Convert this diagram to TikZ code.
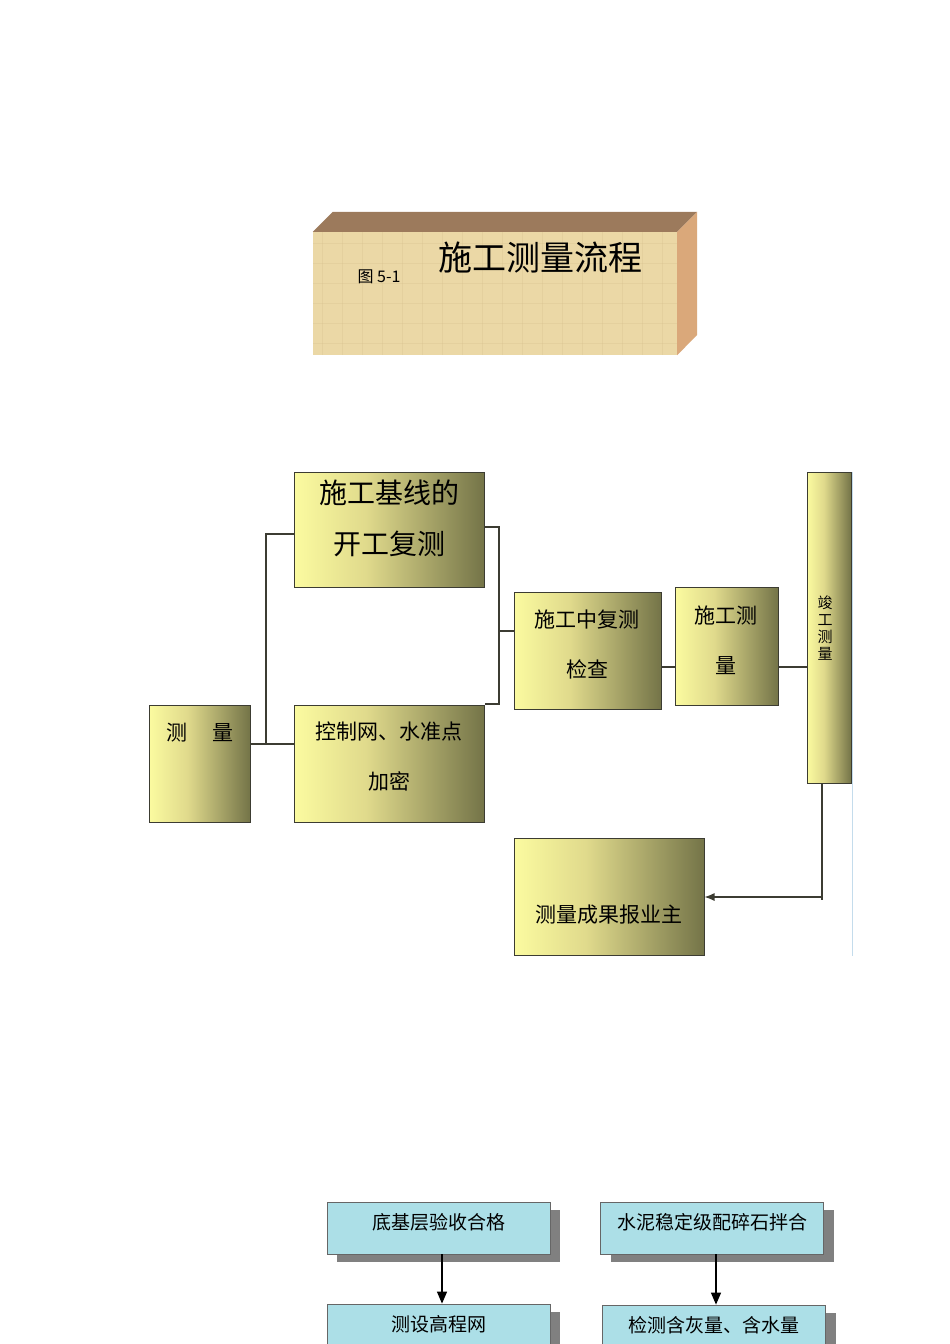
\documentclass[tikz,border=0pt]{standalone}
\usepackage{fontspec}
\setmainfont{Noto Sans CJK SC}
\usetikzlibrary{calc}
\usetikzlibrary{shadows}
\usetikzlibrary{arrows.meta}
\definecolor{flwyl}{RGB}{251,251,160}
\definecolor{flwym}{RGB}{224,218,140}
\definecolor{flwyd}{RGB}{116,116,72}
\definecolor{flwln}{RGB}{60,60,50}
\definecolor{ttlfr}{RGB}{235,216,166}
\definecolor{ttltx}{RGB}{214,190,140}
\definecolor{ttltp}{RGB}{156,122,92}
\definecolor{ttlsd}{RGB}{218,168,122}
\definecolor{wtrfl}{RGB}{172,223,231}
\definecolor{wtrsh}{RGB}{128,128,128}
\definecolor{edgbl}{RGB}{196,220,236}
\pgfdeclarehorizontalshading{flwshade}{100bp}{color(0bp)=(flwyl);
  color(25bp)=(flwyl); color(44bp)=(flwym); color(75bp)=(flwyd);
  color(100bp)=(flwyd)}
\newcommand{\flwbxh}{117pt}
\newcommand{\flwbxw}{190pt}
\newcommand{\wtrbxw}{223pt}
\newcommand{\wtrbxh}{52pt}
\newcommand{\flwfnt}{\fontsize{21}{50}\selectfont}
\newcommand{\wtrfnt}{\fontsize{19}{22}\selectfont}
\tikzset{
  flwbox/.style={draw=flwln, line width=1pt, shading=flwshade,
    inner sep=0pt, minimum height=\flwbxh},
  flwtxt/.style={inner sep=0pt, align=center, font=\flwfnt},
  flwwire/.style={draw=flwln, line width=1.2pt},
  wtrbox/.style={draw=wtrsh!80!black, line width=0.8pt, fill=wtrfl,
    inner sep=0pt, minimum width=\wtrbxw, minimum height=\wtrbxh,
    font=\wtrfnt, text depth=14pt,
    drop shadow={shadow xshift=10pt, shadow yshift=-8pt,
      fill=wtrsh, opacity=1}},
  wtrwire/.style={draw=black, line width=1.3pt,
    -{Triangle[length=12pt,width=10pt]}}
}
\begin{document}
\begin{tikzpicture}[x=1pt,y=-1pt]
    \useasboundingbox (0,0) rectangle (950,1344);

    \node[inner sep=0pt, fill=ttlfr, minimum width=364pt,
      minimum height=123pt] (ttl) at (495,293.5) {};
    \begin{scope}
      \clip (ttl.north west) rectangle (ttl.south east);
      \foreach \k in {0,...,17}
        \draw[ttltx, line width=1pt, opacity=0.3]
          ($(ttl.north west)+(10+20*\k,0)$) -- ++(0,123);
      \foreach \k in {0,...,5}
        \draw[ttltx, line width=1pt, opacity=0.3]
          ($(ttl.north west)+(0,12+20*\k)$) -- ++(364,0);
    \end{scope}
    \fill[ttltp] (ttl.north west) -- ++(20,-20)
      -- ($(ttl.north east)+(20,-20)$) -- (ttl.north east) -- cycle;
    \fill[ttlsd] (ttl.north east) -- ++(20,-20) -- ++(0,123)
      -- (ttl.south east) -- cycle;
    \node[inner sep=0pt, font=\fontsize{34}{40}\selectfont]
      (ttl-name) at (540,258) {施工测量流程};
    \node[inner sep=0pt, font=\fontsize{16}{20}\selectfont]
      (ttl-fig) at (379,277) {图 5-1};

    \node[flwbox, minimum width=101pt] (meas) at (199.5,763.5) {};
    \node[flwbox, minimum width=\flwbxw, minimum height=115pt]
      (base) at (389,529.5) {};
    \node[flwbox, minimum width=\flwbxw] (ctrl) at (389,763.5) {};
    \node[flwbox, minimum width=147pt] (chck) at (587.5,650.5) {};
    \node[flwbox, minimum width=103pt, minimum height=118pt]
      (work) at (726.5,646) {};
    \node[flwbox, minimum width=44pt, minimum height=311pt]
      (done) at (829,627.5) {};
    \node[flwbox, minimum width=\flwbxw] (rept) at (609,896.5) {};

    \node[flwtxt] (meas-t) at (200,733) {测\hspace{25pt}量};
    \node[flwtxt, font=\fontsize{28}{51}\selectfont]
      (base-t) at (389,518.5) {施工基线的\\开工复测};
    \node[flwtxt] (ctrl-t) at (389,757) {控制网、水准点\\加密};
    \node[flwtxt] (chck-t) at (587,644) {施工中复测\\检查};
    \node[flwtxt] (work-t) at (726,640) {施工测\\量};
    \node[flwtxt, font=\fontsize{15}{16.7}\selectfont]
      (done-t) at (825,628) {竣\\工\\测\\量};
    \node[flwtxt] (rept-t) at (609,915) {测量成果报业主};

    \coordinate (jl) at (266,744);
    \coordinate (jlt) at (266,534);
    \coordinate (jr) at (499,527);
    \coordinate (jrb) at (499,704);
    \coordinate (jrm) at (499,631);
    \coordinate (jw) at (668,667);
    \coordinate (jd) at (822,897);
    \coordinate (jde) at (822,900);

    \draw[flwwire] (meas.east |- jl) -- (ctrl.west |- jl);
    \draw[flwwire] (jl) -- (jlt) -- (base.west |- jlt);
    \draw[flwwire] (base.east |- jr) -- (jr) -- (jrb) -- (ctrl.east |- jrb);
    \draw[flwwire] (jrm) -- (chck.west |- jrm);
    \draw[flwwire] (chck.east |- jw) -- (work.west |- jw);
    \draw[flwwire] (work.east |- jw) -- (done.west |- jw);
    \draw[flwwire] (done.south -| jd) -- (jde);
    \draw[flwwire, -{Latex[length=10pt,width=8pt]}]
      (jd) -- (rept.east |- jd);
    \draw[edgbl, line width=1pt] (852,472) -- (852,956);

    \node[wtrbox] (sbas) at (438.5,1228) {底基层验收合格};
    \node[wtrbox] (mix) at (712,1228) {水泥稳定级配碎石拌合};
    \node[wtrbox] (lvl) at (438.5,1330) {测设高程网};
    \node[wtrbox] (lime) at (714,1331) {检测含灰量、含水量};

    \coordinate (ja) at (442,0);
    \coordinate (jb) at (716,0);
    \draw[wtrwire] (sbas.south -| ja) -- (lvl.north -| ja);
    \draw[wtrwire] (mix.south -| jb) -- (lime.north -| jb);
  \end{tikzpicture}
\end{document}
